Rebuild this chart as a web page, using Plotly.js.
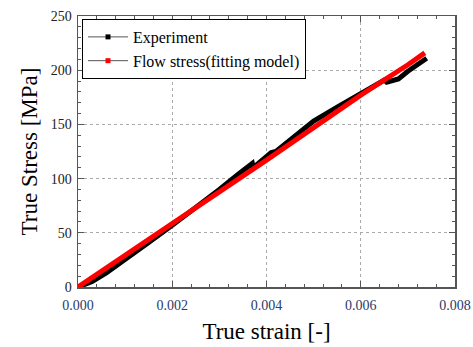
<!DOCTYPE html>
<html>
<head>
<meta charset="utf-8">
<script src="https://cdn.plot.ly/plotly-3.0.1.min.js"></script>
<style>html,body{margin:0;padding:0;background:#fff;}#chart{width:473px;height:347px;}</style>
</head>
<body>
<div id="chart"></div>
<script>
// Experiment (black)
const expStrain = [0, 0.0003, 0.0006, 0.001, 0.0015, 0.002, 0.0025, 0.003, 0.0034, 0.0036, 0.0037, 0.00372, 0.0039, 0.0041, 0.0042, 0.0045, 0.005, 0.0055, 0.006, 0.0065, 0.00655, 0.0068, 0.007, 0.0072, 0.0074];
const expStress = [0, 5, 13, 26, 41, 57, 73, 90, 104, 111, 114, 110, 117, 124, 125, 136, 153, 166, 179, 191, 189, 192, 199, 205, 211];
// Flow stress (fitting model, red)
const fitStrain = [0, 0.001, 0.002, 0.003, 0.004, 0.005, 0.006, 0.007, 0.00736];
const fitStress = [0, 29, 58, 88, 117, 147, 177, 205, 216];
const xTicks = [0, 0.002, 0.004, 0.006, 0.008];
const yTicks = [0, 50, 100, 150, 200, 250];
const names = ['Experiment', 'Flow stress(fitting model)'];

const serif = '"Liberation Serif", "Times New Roman", "DejaVu Serif", serif';

const traces = [
  {x: expStrain, y: expStress, mode: 'lines', line: {color: '#000', width: 5}, showlegend: false, hoverinfo: 'skip'},
  {x: fitStrain, y: fitStress, mode: 'lines', line: {color: '#ff0000', width: 5}, showlegend: false, hoverinfo: 'skip'},
  {x: [null], y: [null], name: names[0], mode: 'lines+markers', line: {color: '#555', width: 1}, marker: {color: '#000', size: 5, symbol: 'square'}},
  {x: [null], y: [null], name: names[1], mode: 'lines+markers', line: {color: '#555', width: 1}, marker: {color: '#ff0000', size: 5, symbol: 'square'}}
];

const axisCommon = {
  showline: true, linecolor: '#555', linewidth: 1.5, mirror: 'ticks',
  ticks: 'inside', ticklen: 6, tickcolor: '#555', tickwidth: 1,
  showgrid: true, gridcolor: '#aaa', griddash: 'dot', gridwidth: 1,
  zeroline: false
};

const layout = {
  width: 473, height: 347,
  margin: {l: 78, r: 18, t: 16, b: 60},
  paper_bgcolor: '#fff', plot_bgcolor: '#fff',
  font: {family: serif, color: '#000'},
  xaxis: Object.assign({}, axisCommon, {
    range: [0, 0.008], tickvals: xTicks, ticktext: xTicks.map(v => v.toFixed(3)),
    tickfont: {family: serif, size: 14, color: '#2b3a67'},
    ticklabelstandoff: 5,
    minor: {dtick: 0.0004, tick0: 0, ticks: 'inside', ticklen: 3, tickcolor: '#555', showgrid: false},
    title: {text: 'True strain [-]', font: {family: serif, size: 23, color: '#000'}, standoff: 10}
  }),
  yaxis: Object.assign({}, axisCommon, {
    range: [0, 250], tickvals: yTicks,
    tickfont: {family: serif, size: 14, color: '#222'},
    ticklabelstandoff: 2,
    minor: {dtick: 10, tick0: 0, ticks: 'inside', ticklen: 3, tickcolor: '#555', showgrid: false},
    title: {text: 'True Stress [MPa]', font: {family: serif, size: 23, color: '#000'}, standoff: 6}
  }),
  legend: {
    x: 0.0106, y: 0.989, xanchor: 'left', yanchor: 'top',
    bgcolor: '#fff', bordercolor: '#000', borderwidth: 1,
    font: {size: 16, color: '#000', family: serif},
    itemwidth: 40, tracegroupgap: 0
  },
  showlegend: true
};

Plotly.newPlot('chart', traces, layout, {displayModeBar: false, staticPlot: true});
</script>
</body>
</html>
